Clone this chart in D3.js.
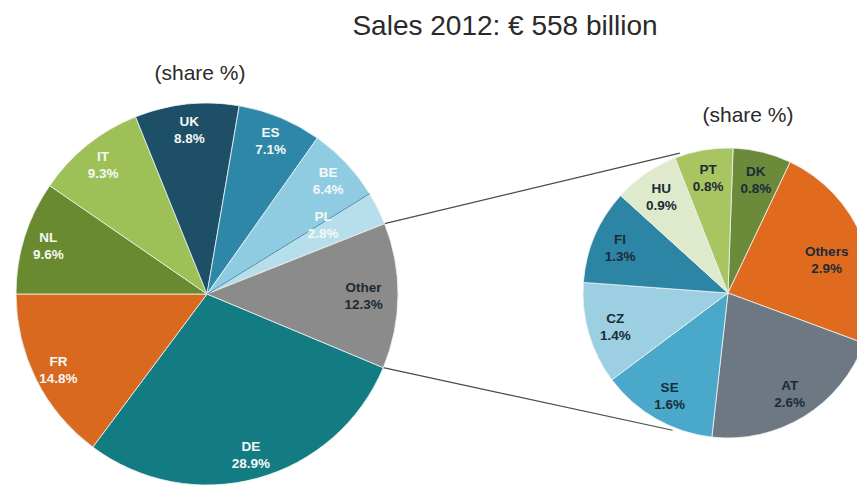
<!DOCTYPE html>
<html>
<head>
<meta charset="utf-8">
<script src="https://cdn.jsdelivr.net/npm/d3@7"></script>
<style>
  html, body { margin: 0; padding: 0; background: #fff; }
  svg { display: block; font-family: "Liberation Sans", Arial, sans-serif; }
</style>
</head>
<body>
<svg id="chart" width="857" height="487"></svg>
<script>
// Market shares, 2012 (percent of total sales)
const mainCategories = ["DE", "FR", "NL", "IT", "UK", "ES", "BE", "PL", "Other"];
const mainValues     = [28.9, 14.8, 9.6, 9.3, 8.8, 7.1, 6.4, 2.8, 12.3];

// Breakdown of the "Other" slice
const otherCategories = ["DK", "Others", "AT", "SE", "CZ", "FI", "HU", "PT"];
const otherValues     = [0.8, 2.9, 2.6, 1.6, 1.4, 1.3, 0.9, 0.8];

const titleText = "Sales 2012: € 558 billion";
const subtitleText = "(share %)";

// ---- styling ----
const mainColors = {
  DE: "#137b82", FR: "#d9691e", NL: "#6a8a30", IT: "#9dc057", UK: "#1d4f67",
  ES: "#2e87a8", BE: "#8fcce2", PL: "#b7dfeb", Other: "#8b8b8b"
};
const otherColors = {
  DK: "#6b8b3b", Others: "#e06b1f", AT: "#6e7882", SE: "#4aa9ca",
  CZ: "#9bcfe1", FI: "#2d85a6", HU: "#dfe9cc", PT: "#a8c562"
};
const mainLabelColor = { Other: "#1e2a30" };
// label radius (fraction of pie radius) and angle nudge in degrees
const mainLabelPos = { Other: [0.82, 0], PL: [0.71, -4.5] };
const otherLabelPos = { Others: [0.72, 3] };

const svg = d3.select("#chart");
const deg = Math.PI / 180;

// ---- geometry ----
const L = { cx: 207, cy: 294, r: 191 };
const R = { cx: 728, cy: 293, r: 145 };

// Rotate the main pie so FR ends at 9 o'clock (clockwise order from the top)
const total = d3.sum(mainValues);
const frEnd = 270 * deg;
const mainStart = frEnd - (mainValues[0] + mainValues[1]) / total * 2 * Math.PI;

const mainPie = d3.pie().sort(null).value(d => d.value)
  .startAngle(mainStart).endAngle(mainStart + 2 * Math.PI);
const otherPie = d3.pie().sort(null).value(d => d.value)
  .startAngle(2 * deg).endAngle(2 * deg + 2 * Math.PI);

const mainData = mainPie(mainCategories.map((c, i) => ({ name: c, value: mainValues[i] })));
const otherData = otherPie(otherCategories.map((c, i) => ({ name: c, value: otherValues[i] })));

const mainArc = d3.arc().innerRadius(0).outerRadius(L.r);
const otherArc = d3.arc().innerRadius(0).outerRadius(R.r);

function polar(c, radius, angle) {
  return [c.cx + radius * Math.sin(angle), c.cy - radius * Math.cos(angle)];
}

// ---- connector lines from the "Other" slice to the breakdown pie ----
const otherSlice = mainData.find(d => d.data.name === "Other");
const connectors = [
  [polar(L, L.r, otherSlice.startAngle), polar(R, R.r + 3, 341 * deg)],
  [polar(L, L.r, otherSlice.endAngle), polar(R, R.r + 3, 202 * deg)]
];
svg.append("g").selectAll("line").data(connectors).join("line")
  .attr("x1", d => d[0][0]).attr("y1", d => d[0][1])
  .attr("x2", d => d[1][0]).attr("y2", d => d[1][1])
  .attr("stroke", "#4a4a4a").attr("stroke-width", 1.2);

// ---- main pie ----
const gL = svg.append("g").attr("transform", `translate(${L.cx},${L.cy})`);
gL.selectAll("path").data(mainData).join("path")
  .attr("d", mainArc)
  .attr("fill", d => mainColors[d.data.name])
  .attr("stroke", "#eef4f4").attr("stroke-width", 0.8);

// darker divider between BE and PL
const bePl = mainData.find(d => d.data.name === "PL");
gL.append("line")
  .attr("x1", 0).attr("y1", 0)
  .attr("x2", L.r * Math.sin(bePl.startAngle)).attr("y2", -L.r * Math.cos(bePl.startAngle))
  .attr("stroke", "#3e86a8").attr("stroke-width", 1);

function labelXY(d, r, pos) {
  const p = pos[d.data.name] || null;
  const f = p ? p[0] : (r === L.r ? 0.87 : 0.81);
  const a = (d.startAngle + d.endAngle) / 2 + (p ? p[1] * deg : 0);
  return [f * r * Math.sin(a), -f * r * Math.cos(a)];
}

const mainLabels = gL.selectAll("text.lbl").data(mainData).join("text")
  .attr("class", "lbl")
  .attr("text-anchor", "middle")
  .attr("font-size", 13.5).attr("font-weight", "bold")
  .attr("fill", d => mainLabelColor[d.data.name] || "#f4f8f6")
  .attr("transform", d => `translate(${labelXY(d, L.r, mainLabelPos)})`);
mainLabels.append("tspan").attr("x", 0).attr("y", -3).text(d => d.data.name);
mainLabels.append("tspan").attr("x", 0).attr("y", 14).text(d => d.data.value.toFixed(1) + "%");

// ---- breakdown pie ----
const gR = svg.append("g").attr("transform", `translate(${R.cx},${R.cy})`);
gR.selectAll("path").data(otherData).join("path")
  .attr("d", otherArc)
  .attr("fill", d => otherColors[d.data.name])
  .attr("stroke", "#eef4f4").attr("stroke-width", 0.8);

const otherLabels = gR.selectAll("text.lbl").data(otherData).join("text")
  .attr("class", "lbl")
  .attr("text-anchor", "middle")
  .attr("font-size", 13.5).attr("font-weight", "bold")
  .attr("fill", "#1a2c38")
  .attr("transform", d => `translate(${labelXY(d, R.r, otherLabelPos)})`);
otherLabels.append("tspan").attr("x", 0).attr("y", -3).text(d => d.data.name);
otherLabels.append("tspan").attr("x", 0).attr("y", 14).text(d => d.data.value.toFixed(1) + "%");

// ---- titles ----
svg.append("text")
  .attr("x", 505).attr("y", 35)
  .attr("text-anchor", "middle")
  .attr("font-size", 28).attr("fill", "#2a2a2a")
  .text(titleText);

svg.append("text")
  .attr("x", 200).attr("y", 80)
  .attr("text-anchor", "middle")
  .attr("font-size", 21).attr("fill", "#2a2a2a")
  .text(subtitleText);

svg.append("text")
  .attr("x", 748).attr("y", 122)
  .attr("text-anchor", "middle")
  .attr("font-size", 21).attr("fill", "#2a2a2a")
  .text(subtitleText);
</script>
</body>
</html>
